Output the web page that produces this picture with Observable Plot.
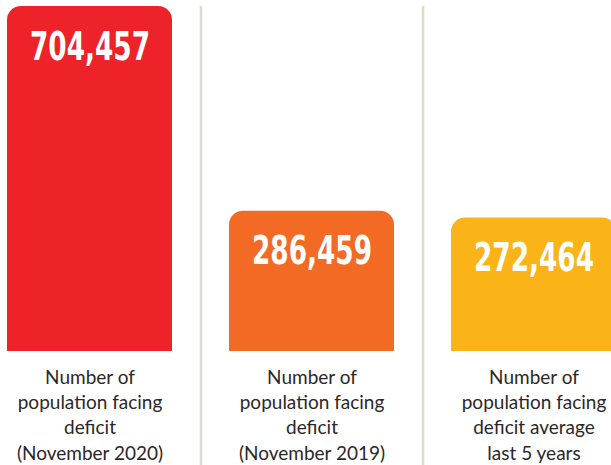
<!DOCTYPE html>
<html>
<head>
<meta charset="utf-8">
<script src="https://cdn.jsdelivr.net/npm/d3@7"></script>
<script src="https://cdn.jsdelivr.net/npm/@observablehq/plot@0.6"></script>
<style>
  html, body { margin: 0; padding: 0; background: #fff; overflow: hidden; }
  #chart svg { overflow: hidden; display: block; }
</style>
</head>
<body>
<div id="chart"></div>
<script>
const categories = [
  "Number of\npopulation facing\ndeficit\n(November 2020)",
  "Number of\npopulation facing\ndeficit\n(November 2019)",
  "Number of\npopulation facing\ndeficit average\nlast 5 years"
];
const values = [704457, 286459, 272464];
const colors = ["#EE2229", "#F26A24", "#FBB418"];

const data = categories.map((c, i) => ({category: c, value: values[i], color: colors[i]}));
const fmt = d3.format(",");

const chart = Plot.plot({
  width: 611,
  height: 465,
  marginTop: 6,
  marginBottom: 114,
  marginLeft: 0,
  marginRight: 0,
  style: {background: "#fff", overflow: "hidden"},
  x: {domain: categories, range: [-21.5, 644.5], paddingInner: 0.2568, paddingOuter: 0.1284, axis: null},
  y: {domain: [0, 704457], axis: null},
  marks: [
    Plot.ruleX(categories.slice(0, 2), {x: d => d, dx: 111, stroke: "#DEDACE", strokeWidth: 2.5, insetBottom: -114}),
    Plot.barY(data, {x: "category", y: "value", fill: "color", rx: 14}),
    Plot.barY(data, {x: "category", y1: 0, y2: d => d.value / 2, fill: "color"}),
    Plot.text(data, {
      x: "category", y: "value", text: d => fmt(d.value),
      fill: "#fff", fontSize: 39, fontWeight: "bold",
      fontFamily: "'DejaVu Sans Condensed', 'DejaVu Sans', sans-serif",
      lineAnchor: "bottom", dy: 53
    }),
    Plot.axisX({
      tickSize: 0, tickPadding: 15, fontSize: 19, lineHeight: 1.32,
      fontFamily: "Lato, 'Open Sans', sans-serif", fill: "#2B2727",
      label: null, textOverflow: null
    })
  ]
});
document.getElementById("chart").appendChild(chart);

// narrow the bold figures to the condensed width of the original typeface
const labels = new Set(values.map(fmt));
d3.select(chart).selectAll("text")
  .filter(function() { return labels.has(this.textContent.trim()); })
  .each(function() {
    const w = this.getComputedTextLength();
    const s = w > 0 ? 120 / w : 1;
    const x = +this.getAttribute("x") || 0;
    const y = +this.getAttribute("y") || 0;
    this.removeAttribute("x");
    this.removeAttribute("y");
    const t = this.getAttribute("transform") || "";
    this.setAttribute("transform", `${t} translate(${x},${y}) scale(${s},1)`);
  });
</script>
</body>
</html>
